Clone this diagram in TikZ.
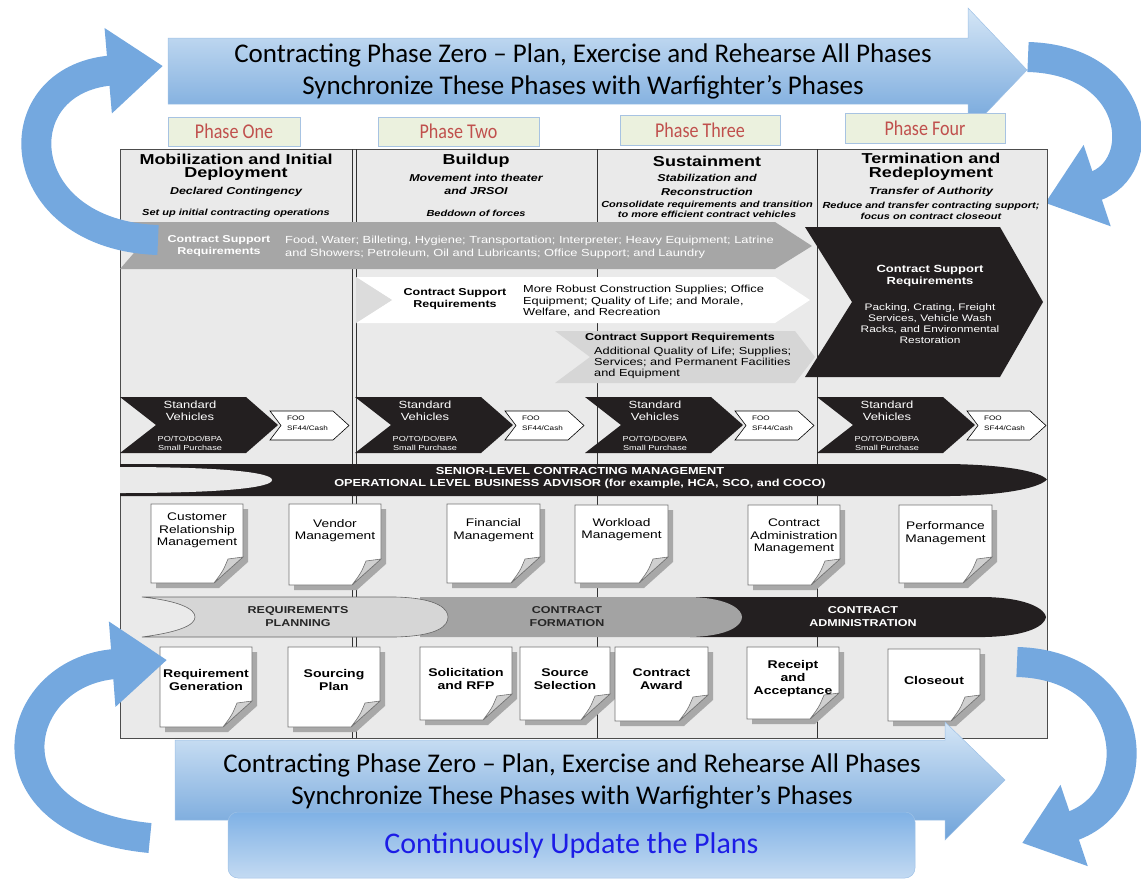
\documentclass[tikz,border=0pt]{standalone}
\usepackage{fontspec}
\setmainfont{Liberation Sans}[FakeStretch=1.25]
\newfontfamily\carlito{Carlito}
\newfontfamily\carlitonarrow{Carlito}[FakeStretch=0.86]
\usetikzlibrary{arrows.meta}
\definecolor{panelbg}{HTML}{EAEAEA}
\definecolor{bandgray}{HTML}{A6A6A6}
\definecolor{lightchev}{HTML}{D6D6D6}
\definecolor{notchgray}{HTML}{DCDCDC}
\definecolor{nearblack}{HTML}{231F20}
\definecolor{formgray}{HTML}{A3A3A3}
\definecolor{blueA}{HTML}{D5E6F6}
\definecolor{blueB}{HTML}{6FA3DA}
\definecolor{blueC}{HTML}{5D97D6}
\definecolor{curveblue}{HTML}{74A8DF}
\definecolor{phasefill}{HTML}{EBF1DE}
\definecolor{phaseborder}{HTML}{A7C3E2}
\definecolor{phasered}{HTML}{C0504D}
\definecolor{docshadow}{HTML}{A8A8A8}
\definecolor{curl}{HTML}{D0D0D0}
\definecolor{planblue}{HTML}{1C1CE6}
\definecolor{boxtop}{HTML}{7FB1E5}
\definecolor{boxbot}{HTML}{C3DAF2}
\newcommand\fsz[2]{\fontsize{#1}{#2}\selectfont}
% paper icon: name, xl, yt, xr, yb, text y, style, text
\newcommand\paper[8]{%
  \fill[docshadow] (#2+5,#3+5) -- (#4+5,#3+5) -- (#4+5,#5-21) -- (#4-24,#5+5) -- (#2+5,#5+5) -- cycle;
  \filldraw[fill=white, draw=black!55, line width=0.6pt] (#2,#3) -- (#4,#3) -- (#4,#5-26) -- (#4-29,#5) -- (#2,#5) -- cycle;
  \filldraw[fill=curl, draw=black!55, line width=0.6pt] (#4,#5-26) -- (#4-15,#5-24) .. controls (#4-20,#5-12) .. (#4-29,#5) -- cycle;
  \node[#7] (#1) at ({(#2+#4)/2},#6) {#8};
}
% standard vehicles chevrons: name, left x
\newcommand\stdveh[2]{%
  \filldraw[fill=white, draw=black, line width=0.6pt] (#2+150,411) -- (#2+213,411) -- (#2+229,425.5) -- (#2+213,440) -- (#2+150,440) -- (#2+161,425.5) -- cycle;
  \fill[nearblack] (#2,397) -- (#2+126,397) -- (#2+158,425) -- (#2+126,453) -- (#2,453) -- (#2+36,425) -- cycle;
  \node[vehtext] (#1a) at (#2+70,411) {Standard\\Vehicles};
  \node[vehsmall] (#1b) at (#2+70,443.5) {PO/TO/DO/BPA\\Small Purchase};
  \node[footext] (#1c) at (#2+167,423.5) {FOO\\SF44/Cash};
}
\begin{document}
\begin{tikzpicture}[x=1pt,y=-1pt,
  hdtitle/.style={font=\bfseries\fsz{14.4}{13.5}, align=center, inner sep=0pt},
  hdsub/.style={font=\bfseries\itshape\fsz{10}{13.5}, align=center, inner sep=0pt},
  hdsmall/.style={font=\bfseries\itshape\fsz{8.8}{10.5}, align=center, inner sep=0pt},
  csrbold/.style={font=\bfseries\fsz{10}{12}, align=center, inner sep=0pt},
  csrtext/.style={font=\fsz{10.2}{11.5}, align=left, inner sep=0pt, anchor=west},
  vehtext/.style={font=\fsz{10.4}{11.5}, align=center, inner sep=0pt, text=white},
  vehsmall/.style={font=\fsz{7.3}{8.5}, align=center, inner sep=0pt, text=white},
  footext/.style={font=\fsz{6.5}{10}, align=left, inner sep=0pt, anchor=west},
  bandtext/.style={font=\bfseries\fsz{10}{13}, align=center, inner sep=0pt},
  docreg/.style={font=\fsz{11}{12.5}, align=center, inner sep=0pt},
  docbold/.style={font=\bfseries\fsz{11.2}{13}, align=center, inner sep=0pt},
  arrowtext/.style={font=\carlito\fsz{27}{32}, align=center, inner sep=0pt},
  phasebox/.style={draw=phaseborder, fill=phasefill, line width=1pt, inner sep=0pt, text=phasered, font=\carlitonarrow\fsz{21}{21}},
  colline/.style={draw=black!80, line width=0.7pt},
  bluecurve/.style={draw=curveblue, line width=30pt, -{Triangle[width=82pt,length=55pt]}}
]
\useasboundingbox (0,0) rectangle (1141,881);

% ---------- top-right curved arrow (behind top arrow)
\coordinate (trs) at (1028,57);
\coordinate (tre) at (1045,203);
\draw[bluecurve] (trs) .. controls (1140,60) and (1150,168) .. (tre);

% ---------- top straight arrow
\shade[top color=blueA, bottom color=blueB, draw=blueC!60, line width=0.5pt]
  (168,38) -- (968,38) -- (968,8) -- (1027,70) -- (968,132) -- (968,104) -- (168,104) -- cycle;
\node[arrowtext] (toptext) at (583,71) {Contracting Phase Zero – Plan, Exercise and Rehearse All Phases\\Synchronize These Phases with Warfighter’s Phases};

% ---------- panel
\filldraw[fill=panelbg, draw=black!70, line width=0.8pt] (120,149) rectangle (1047,738);
\draw[colline] (352,149) -- (352,738);
\draw[colline] (356,149) -- (356,738);
\draw[colline] (597,149) -- (597,738);
\draw[colline] (817,149) -- (817,738);

% ---------- header texts
\node[hdtitle] (h1) at (236,167.5) {Mobilization and Initial\\Deployment};
\node[hdsub] (h1s) at (236,192) {Declared Contingency};
\node[hdsmall] (h1t) at (236,213) {Set up initial contracting operations};
\node[hdtitle] (h2) at (476,161) {Buildup};
\node[hdsub] (h2s) at (476,184.5) {Movement into theater\\and JRSOI};
\node[hdsmall] (h2t) at (476,213) {Beddown of forces};
\node[hdtitle] (h3) at (707,161) {Sustainment};
\node[hdsub] (h3s) at (707,185) {Stabilization and\\Reconstruction};
\node[hdsmall] (h3t) at (707,209.5) {Consolidate requirements and transition\\to more efficient contract vehicles};
\node[hdtitle] (h4) at (931,167) {Termination and\\Redeployment};
\node[hdsub] (h4s) at (931,192) {Transfer of Authority};
\node[hdsmall] (h4t) at (931,211) {Reduce and transfer contracting support;\\focus on contract closeout};

% ---------- contract support requirements chevrons
\fill[bandgray] (120,222) -- (775,222) -- (812,246) -- (775,269) -- (120,269) -- (140,246) -- cycle;
\node[csrbold, text=white] (csr1) at (219,246) {Contract Support\\Requirements};
\node[csrtext, text=white, font=\fsz{10.3}{12.5}] (csr1t) at (285,247.5) {Food, Water; Billeting, Hygiene; Transportation; Interpreter; Heavy Equipment; Latrine\\and Showers; Petroleum, Oil and Lubricants; Office Support; and Laundry};

\fill[white] (356,277) -- (775,277) -- (810,300) -- (775,323) -- (356,323) -- (392,300) -- cycle;
\fill[notchgray] (356,277) -- (392,300) -- (356,323) -- cycle;
\node[csrbold] (csr2) at (455,299) {Contract Support\\Requirements};
\node[csrtext] (csr2t) at (523,301) {More Robust Construction Supplies; Office\\Equipment; Quality of Life; and Morale,\\Welfare, and Recreation};

\fill[lightchev] (555,331) -- (795,331) -- (815,357) -- (795,383) -- (555,383) -- (590,357) -- cycle;
\node[csrbold] (csr3) at (680,338) {Contract Support Requirements};
\node[csrtext, font=\fsz{10.2}{11}] (csr3t) at (594,362.5) {Additional Quality of Life; Supplies;\\Services; and Permanent Facilities\\and Equipment};

\fill[nearblack] (805,227) -- (1000,227) -- (1043,302) -- (1000,377) -- (805,377) -- (852,302) -- cycle;
\node[csrbold, text=white, font=\bfseries\fsz{10.4}{12}] (csr4) at (930,276) {Contract Support\\Requirements};
\node[csrtext, text=white, anchor=center, align=center, font=\fsz{9.5}{11}] (csr4t) at (930,323.5) {Packing, Crating, Freight\\Services, Vehicle Wash\\Racks, and Environmental\\Restoration};

% ---------- standard vehicles
\stdveh{v1}{120}
\stdveh{v2}{355}
\stdveh{v3}{585}
\stdveh{v4}{817}

% ---------- senior level band
\fill[nearblack] (120,464) -- (950,464) .. controls (1010,465) and (1040,472) .. (1047,479.5) .. controls (1040,487) and (1010,495) .. (950,496) -- (120,496) -- cycle;
\fill[panelbg] (120,467) .. controls (230,467) and (272,473) .. (272,480) .. controls (272,487) and (230,493) .. (120,493) -- cycle;
\node[csrbold, text=white, font=\bfseries\fsz{10.2}{12.5}] (senior) at (580,478) {SENIOR-LEVEL CONTRACTING MANAGEMENT\\OPERATIONAL LEVEL BUSINESS ADVISOR (for example, HCA, SCO, and COCO)};

% ---------- management documents
\paper{crm}{151}{504}{243}{583}{530.5}{docreg}{Customer\\Relationship\\Management}
\paper{vm}{289}{504}{381}{585}{530.5}{docreg}{Vendor\\Management}
\paper{fm}{447}{504}{540}{583}{530}{docreg}{Financial\\Management}
\paper{wm}{575}{505}{668}{583}{529.5}{docreg}{Workload\\Management}
\paper{cam}{748}{505}{840}{585}{536.5}{docreg}{Contract\\Administration\\Management}
\paper{pm}{899}{505}{992}{583}{533}{docreg}{Performance\\Management}

% ---------- process band
\fill[nearblack] (690,597) -- (985,597) .. controls (1030,598) and (1045,610) .. (1046,617) .. controls (1045,625) and (1030,636) .. (985,637) -- (690,637) -- cycle;
\fill[formgray] (420,597) -- (690,597) .. controls (730,598) and (742,610) .. (742,617) .. controls (742,625) and (730,636) .. (690,637) -- (420,637) -- cycle;
\filldraw[fill=lightchev, draw=black!60, line width=0.6pt] (142,597) -- (395,597) .. controls (440,598) and (448,610) .. (448,617) .. controls (448,625) and (440,636) .. (395,637) -- (142,637) .. controls (180,632) and (195,625) .. (195,617) .. controls (195,609) and (180,601) .. (142,597) -- cycle;
\node[bandtext, text=black!85] (rp) at (298,616.5) {REQUIREMENTS\\PLANNING};
\node[bandtext, text=black!85] (cf) at (567,616.5) {CONTRACT\\FORMATION};
\node[bandtext, text=white] (ca) at (863,616.5) {CONTRACT\\ADMINISTRATION};

% ---------- process documents
\paper{rg}{160}{647}{252}{727}{679.5}{docbold}{Requirement\\Generation}
\paper{sp}{288}{647}{380}{727}{679.5}{docbold}{Sourcing\\Plan}
\paper{sr}{420}{647}{512}{720}{679}{docbold}{Solicitation\\and RFP}
\paper{ss}{520}{647}{610}{720}{679}{docbold}{Source\\Selection}
\paper{aw}{615}{647}{708}{721}{679.5}{docbold}{Contract\\Award}
\paper{ra}{747}{647}{839}{719}{678.5}{docbold}{Receipt\\and\\Acceptance}
\paper{co}{888}{649}{980}{721}{680}{docbold}{Closeout}

% ---------- phase labels
\node[phasebox, minimum width=132pt, minimum height=29pt] (p1) at (234,131.5) {Phase One};
\node[phasebox, minimum width=161pt, minimum height=29pt] (p2) at (458.5,131.5) {Phase Two};
\node[phasebox, minimum width=160pt, minimum height=30pt] (p3) at (700,130) {Phase Three};
\node[phasebox, minimum width=160pt, minimum height=30pt] (p4) at (925,128) {Phase Four};

% ---------- curved arrows
\coordinate (tls) at (158,240);
\coordinate (tle) at (163,66);
\draw[bluecurve] (tls) .. controls (10,235) and (0,80) .. (tle);
\coordinate (brs) at (1017,662);
\coordinate (bre) at (1022,843);
\draw[bluecurve] (brs) .. controls (1140,665) and (1150,800) .. (bre);
\coordinate (bls) at (150,838);
\coordinate (ble) at (167,660);
\draw[bluecurve] (bls) .. controls (-20,822) and (10,672) .. (ble);

% ---------- bottom straight arrow
\shade[top color=blueA, bottom color=blueB, draw=blueC!60, line width=0.5pt]
  (175,740) -- (945,740) -- (945,722) -- (1005,780) -- (945,840) -- (945,820) -- (175,820) -- cycle;
\node[arrowtext] (bottext) at (572,781) {Contracting Phase Zero – Plan, Exercise and Rehearse All Phases\\Synchronize These Phases with Warfighter’s Phases};

% ---------- continuously update box
\node[rounded corners=10pt, top color=boxtop, bottom color=boxbot, draw=blueC!60, line width=0.5pt, minimum width=687pt, minimum height=66pt, text=planblue, font=\carlito\fsz{30}{30}] (upd) at (571.5,845) {Continuously Update the Plans};
\end{tikzpicture}
\end{document}
